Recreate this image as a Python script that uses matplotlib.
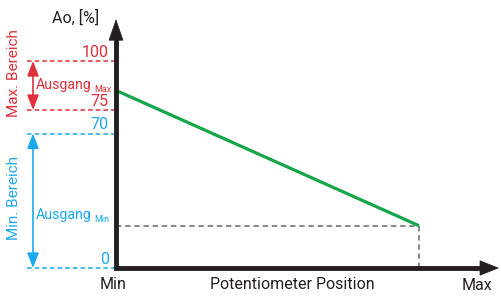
import numpy as np
import matplotlib
matplotlib.use('Agg')
import matplotlib.pyplot as plt

# ---------------- data ----------------
tick_values = [0, 70, 75, 100]
tick_labels = ['0', '70', '75', '100']
max_range = [75, 100]          # Max. Bereich
min_range = [0, 70]            # Min. Bereich
pot_position = [0, 100]        # Min -> Max
output = [85, 22]              # Ao [%]
x_labels = ['Min', 'Max']
x_title = 'Potentiometer Position'
y_title = 'Ao, [%]'

# ---------------- style ----------------
plt.rcParams['font.family'] = ['Roboto', 'DejaVu Sans']

RED = '#e0303a'
BLUE = '#1aa9ea'
GREEN = '#17a54a'
BLACK = '#231f20'
GRAY = '#666666'

# schematic, non-linear vertical scale (piecewise linear)
y_nodes = np.array([0.0, 70.0, 75.0, 100.0])
y_pos = np.array([0.0, 134.5, 158.0, 207.0])
s0 = y_pos[1] / y_nodes[1]
s1 = (y_pos[3] - y_pos[2]) / (y_nodes[3] - y_nodes[2])


def fwd(v):
    v = np.asarray(v, dtype=float)
    out = np.interp(v, y_nodes, y_pos)
    out = np.where(v < 0, v * s0, out)
    out = np.where(v > 100, y_pos[-1] + (v - 100) * s1, out)
    return out


def inv(p):
    p = np.asarray(p, dtype=float)
    out = np.interp(p, y_pos, y_nodes)
    out = np.where(p < 0, p / s0, out)
    out = np.where(p > y_pos[-1], 100 + (p - y_pos[-1]) / s1, out)
    return out


W, H = 501, 296
X0, Y0 = 116, 268            # origin pixel
PX = (419 - X0) / 100.0      # pixels per x unit


def X(px):
    return (px - X0) / PX


def Y(py):
    return float(inv(Y0 - py))


fig = plt.figure(figsize=(W / 100, H / 100), dpi=100)
ax = fig.add_axes([0, 0, 1, 1])
ax.set_yscale('function', functions=(fwd, inv))
ax.set_xlim(X(0), X(W))
ax.set_ylim(Y(H), Y(0))
ax.axis('off')

# range dashed lines
for v in max_range:
    ax.plot([X(27), 0], [v, v], color=RED, lw=1.1, ls=(0, (3, 2)))
for v in min_range:
    ax.plot([X(27), 0], [v, v], color=BLUE, lw=1.1, ls=(0, (3, 2)))

# tick labels
for v, lab in zip(tick_values, tick_labels):
    c = RED if v in max_range else BLUE
    ax.annotate(lab, (X(109), v), xytext=(0, 3), textcoords='offset points',
                ha='right', va='baseline', color=c, fontsize=11.5)

# double arrows
ax.annotate('', xy=(X(33), max_range[1]), xytext=(X(33), max_range[0]),
            arrowprops=dict(arrowstyle='<|-|>,head_length=0.9,head_width=0.35',
                            color=RED, lw=1.2, shrinkA=0, shrinkB=0))
ax.annotate('', xy=(X(33), min_range[1]), xytext=(X(33), min_range[0]),
            arrowprops=dict(arrowstyle='<|-|>,head_length=0.9,head_width=0.35',
                            color=BLUE, lw=1.2, shrinkA=0, shrinkB=0))

# "Ausgang" labels with small subscripts
for txt, sub, py, c in [('Ausgang', 'Max', 89, RED), ('Ausgang', 'Min', 219, BLUE)]:
    ax.text(X(36), Y(py), txt, color=c, fontsize=10.2, ha='left', va='baseline')
    ax.text(X(94), Y(py + 3), sub, color=c, fontsize=6.5, ha='left', va='baseline')

ax.text(X(14), Y(73), 'Max. Bereich', color=RED, fontsize=11, rotation=90,
        ha='center', va='center')
ax.text(X(14), Y(198), 'Min. Bereich', color=BLUE, fontsize=11, rotation=90,
        ha='center', va='center')

# gray guides at the end of the line
ax.plot([0, pot_position[1]], [output[1], output[1]], color=GRAY, lw=1.1,
        ls=(0, (3.5, 2.5)))
ax.plot([pot_position[1], pot_position[1]], [output[1], 0], color=GRAY, lw=1.1,
        ls=(0, (3.5, 2.5)))

# green characteristic
ax.plot(pot_position, output, color=GREEN, lw=2.3, solid_capstyle='butt', zorder=4)

# axes (thick L with arrowheads)
ax.plot([0, 0, X(485)], [Y(32), 0, 0], color=BLACK, lw=3.5,
        solid_joinstyle='miter', solid_capstyle='butt', zorder=5)
ax.annotate('', xy=(0, Y(19)), xytext=(0, Y(40)),
            arrowprops=dict(arrowstyle='-|>,head_length=1.45,head_width=0.5',
                            color=BLACK, lw=0.5, shrinkA=0, shrinkB=0), zorder=6)
ax.annotate('', xy=(X(499), 0), xytext=(X(478), 0),
            arrowprops=dict(arrowstyle='-|>,head_length=1.3,head_width=0.52',
                            color=BLACK, lw=0.5, shrinkA=0, shrinkB=0), zorder=6)

# axis texts
ax.text(X(52), Y(23), y_title, color=BLACK, fontsize=11.5, ha='left', va='baseline')
ax.text(X(113), Y(289), x_labels[0], color=BLACK, fontsize=11.5, ha='center', va='baseline')
ax.text(X(292), Y(289), x_title, color=BLACK, fontsize=11.5, ha='center', va='baseline')
ax.text(X(477), Y(290), x_labels[1], color=BLACK, fontsize=11.5, ha='center', va='baseline')

fig.savefig('out.png', dpi=100)
